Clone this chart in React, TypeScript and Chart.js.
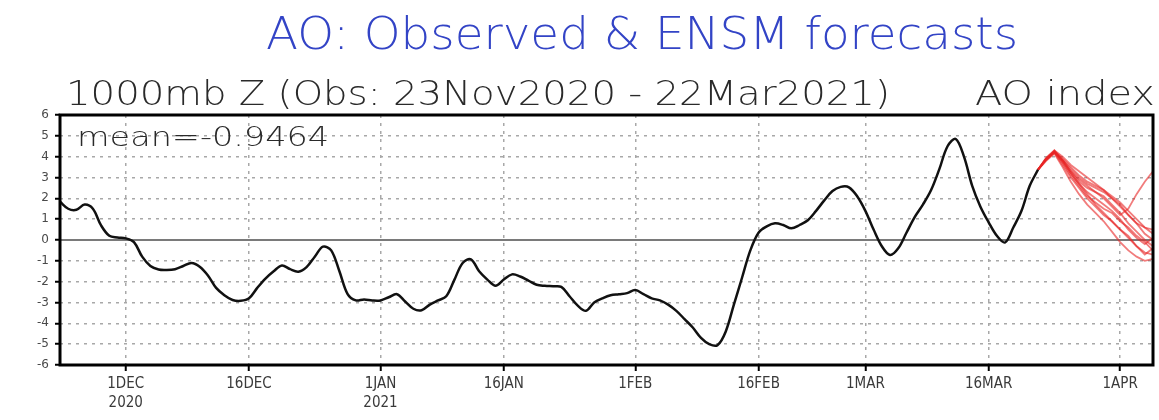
import React, { useEffect, useRef } from "react";
import { Chart, registerables } from "chart.js";

Chart.register(...registerables);

// Day 0 = 23 Nov 2020; observed runs to day 119 = 22 Mar 2021; axis ends 5 Apr 2021 (day 133)
const titleText = "AO: Observed & ENSM forecasts";
const subtitleText = "1000mb Z (Obs: 23Nov2020 - 22Mar2021)";
const indexText = "AO index";
const meanText = "mean=-0.9464";

const observed = [
  1.84, 1.5, 1.45, 1.7, 1.5, 0.7, 0.2, 0.12, 0.08, -0.1,
  -0.8, -1.25, -1.42, -1.44, -1.4, -1.25, -1.1, -1.28, -1.7, -2.3,
  -2.65, -2.88, -2.92, -2.8, -2.3, -1.85, -1.5, -1.22, -1.4, -1.52,
  -1.3, -0.8, -0.32, -0.5, -1.5, -2.6, -2.9, -2.85, -2.9, -2.9,
  -2.75, -2.6, -2.95, -3.3, -3.37, -3.1, -2.9, -2.7, -1.9, -1.1,
  -0.93, -1.5, -1.9, -2.2, -1.9, -1.65, -1.75, -1.95, -2.15, -2.2,
  -2.22, -2.25, -2.7, -3.15, -3.4, -3.0, -2.8, -2.65, -2.6, -2.55,
  -2.4, -2.6, -2.8, -2.9, -3.1, -3.4, -3.8, -4.2, -4.7, -5.0,
  -5.05, -4.4, -3.1, -1.8, -0.5, 0.35, 0.65, 0.8, 0.72, 0.56,
  0.72, 0.95, 1.4, 1.9, 2.35, 2.55, 2.53, 2.1, 1.4, 0.5,
  -0.3, -0.72, -0.4, 0.35, 1.1, 1.7, 2.4, 3.4, 4.5, 4.85,
  4.0, 2.6, 1.6, 0.85, 0.2, -0.12, 0.6, 1.4, 2.6, 3.37,
];

const forecastStartDay = 119;
const member01 = [3.37, 3.9, 4.25, 3.9, 3.5, 3.1, 2.8, 2.6, 2.4, 2.1, 1.8, 1.4, 1.0, 0.6, 0.3];
const member02 = [3.37, 3.85, 4.2, 3.6, 3.0, 2.5, 2.0, 1.6, 1.2, 0.9, 0.5, 0.1, -0.3, -0.6, -0.7];
const member03 = [3.37, 3.9, 4.3, 3.85, 3.3, 2.9, 2.6, 2.3, 2.0, 1.6, 1.2, 1.5, 2.2, 2.8, 3.3];
const member04 = [3.37, 3.8, 4.15, 3.5, 2.8, 2.2, 1.7, 1.3, 0.9, 0.4, -0.1, -0.5, -0.8, -1.0, -0.9];
const member05 = [3.37, 3.9, 4.25, 3.8, 3.3, 2.8, 2.5, 2.3, 2.1, 1.7, 1.3, 0.8, 0.4, 0.0, -0.3];
const member06 = [3.37, 3.95, 4.3, 4.0, 3.6, 3.3, 3.0, 2.7, 2.4, 2.0, 1.6, 1.2, 0.8, 0.6, 0.5];
const member07 = [3.37, 3.85, 4.2, 3.75, 3.2, 2.7, 2.3, 2.0, 1.7, 1.4, 1.0, 0.5, 0.1, -0.2, 0.1];
const member08 = [3.37, 3.9, 4.25, 3.8, 3.2, 2.7, 2.2, 1.7, 1.3, 0.9, 0.5, 0.2, -0.3, -0.7, -0.4];
const member09 = [3.37, 3.9, 4.2, 3.85, 3.4, 3.0, 2.7, 2.5, 2.3, 2.0, 1.7, 1.2, 0.8, 0.3, 0.0];
const member10 = [3.37, 3.85, 4.25, 3.7, 3.1, 2.6, 2.1, 1.8, 1.5, 1.3, 0.9, 0.6, 0.2, -0.1, -0.5];

const xMin = 0;
const xMax = 133;
const tickDays = [8, 23, 39, 54, 70, 85, 98, 113, 129];
const tickLabels: (string | string[])[] = [
  ["1DEC", "2020"], "16DEC", ["1JAN", "2021"], "16JAN", "1FEB", "16FEB", "1MAR", "16MAR", "1APR",
];
const yMin = -6;
const yMax = 6;

function drawFit(ctx: CanvasRenderingContext2D, text: string, x: number, y: number, width: number, font: string, color: string) {
  ctx.save();
  ctx.font = font;
  ctx.fillStyle = color;
  ctx.textBaseline = "alphabetic";
  ctx.textAlign = "left";
  const w = ctx.measureText(text).width;
  ctx.translate(x, y);
  ctx.scale(width / w, 1);
  ctx.fillText(text, 0, 0);
  ctx.restore();
}

const framePlugin = {
  id: "frameAndTexts",
  afterDraw(chart: any) {
    const ctx: CanvasRenderingContext2D = chart.ctx;
    const a = chart.chartArea;
    ctx.save();
    ctx.strokeStyle = "#000";
    ctx.lineWidth = 3;
    ctx.strokeRect(a.left, a.top, a.right - a.left, a.bottom - a.top);
    ctx.restore();
    drawFit(ctx, titleText, 266, 49, 752, "200 44px 'DejaVu Sans'", "#3344c6");
    drawFit(ctx, subtitleText, 66, 105, 824, "200 33px 'DejaVu Sans'", "#2a2a2a");
    drawFit(ctx, indexText, 975, 105, 180, "200 33px 'DejaVu Sans'", "#2a2a2a");
    drawFit(ctx, meanText, 77, 146, 252, "200 27px 'DejaVu Sans'", "#2a2a2a");
  },
};

export default function App() {
  const ref = useRef<HTMLCanvasElement | null>(null);

  useEffect(() => {
    if (!ref.current) return;
    const members = [member01, member02, member03, member04, member05, member06, member07, member08, member09, member10];
    const memberSets = members.map((m, k) => ({
      label: "member" + (k + 1),
      data: m.map((v, i) => ({ x: forecastStartDay + i, y: v })),
      borderColor: "rgba(232, 36, 36, 0.6)",
      borderWidth: 1.8,
      pointRadius: 0,
      tension: 0,
      fill: false,
    }));
    const chart = new Chart(ref.current, {
      type: "line",
      data: {
        datasets: [
          {
            label: "zero",
            data: [{ x: xMin, y: 0 }, { x: xMax, y: 0 }],
            borderColor: "#7a7a7a",
            borderWidth: 2,
            pointRadius: 0,
            order: 3,
          },
          ...memberSets.map((d) => ({ ...d, order: 2 })),
          {
            label: "observed",
            data: observed.map((v, i) => ({ x: i, y: v })),
            borderColor: "#111",
            borderWidth: 2.5,
            pointRadius: 0,
            tension: 0.35,
            order: 1,
          },
        ],
      },
      options: {
        animation: false,
        responsive: false,
        maintainAspectRatio: false,
        layout: { padding: { top: 115, left: 0, right: 6, bottom: 0 } },
        plugins: {
          legend: { display: false },
          title: { display: false },
          tooltip: { enabled: false },
        },
        scales: {
          x: {
            type: "linear",
            min: xMin,
            max: xMax,
            afterBuildTicks: (scale: any) => {
              scale.ticks = tickDays.map((d) => ({ value: d }));
            },
            afterFit: (scale: any) => {
              scale.height = 55;
            },
            ticks: {
              autoSkip: false,
              maxRotation: 0,
              padding: 4,
              color: "#3a3a3a",
              font: { family: "'DejaVu Sans Condensed', 'DejaVu Sans'", size: 15, lineHeight: 1.25 },
              callback: (_v: any, i: number) => tickLabels[i],
            },
            grid: {
              color: "#a8a8a8",
              lineWidth: 1.5,
              tickColor: "#000",
              tickLength: 6,
              tickWidth: 2,
              tickBorderDash: [],
            },
            border: { display: false, dash: [3, 5] },
          },
          y: {
            type: "linear",
            min: yMin,
            max: yMax,
            afterBuildTicks: (scale: any) => {
              const t = [];
              for (let v = yMin; v <= yMax; v++) t.push({ value: v });
              scale.ticks = t;
            },
            afterFit: (scale: any) => {
              scale.width = 60;
            },
            ticks: {
              padding: 6,
              color: "#4a4a4a",
              font: { family: "'DejaVu Sans'", size: 12 },
              callback: (v: any) => String(v),
            },
            grid: {
              color: "#a8a8a8",
              lineWidth: 1.5,
              tickColor: "#000",
              tickLength: 5,
              tickWidth: 2,
              tickBorderDash: [],
            },
            border: { display: false, dash: [3, 5] },
          },
        },
      },
      plugins: [framePlugin],
    });
    return () => chart.destroy();
  }, []);

  return (
    <div style={{ position: "absolute", left: 0, top: 0, width: 1159, height: 420, background: "#fff" }}>
      <canvas ref={ref} width={1159} height={420} style={{ display: "block" }} />
    </div>
  );
}
